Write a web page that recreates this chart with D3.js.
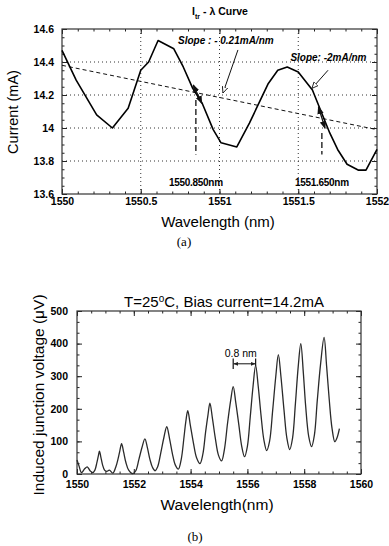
<!DOCTYPE html>
<html><head><meta charset="utf-8">
<script src="https://cdn.jsdelivr.net/npm/d3@7/dist/d3.min.js"></script>
<style>body{margin:0;background:#fff} svg{display:block}</style>
</head><body>
<script>
// ---------- Data: chart (a) ----------
const wlA  = [1550, 1550.09, 1550.22, 1550.32, 1550.42, 1550.50, 1550.55, 1550.61, 1550.71, 1550.77, 1550.83, 1550.89, 1550.96, 1551.01, 1551.11, 1551.19, 1551.31, 1551.37, 1551.43, 1551.50, 1551.59, 1551.70, 1551.75, 1551.81, 1551.88, 1551.93, 1552.00];
const curA = [14.47, 14.29, 14.08, 14.00, 14.12, 14.35, 14.40, 14.53, 14.48, 14.37, 14.24, 14.15, 13.99, 13.91, 13.885, 14.03, 14.27, 14.35, 14.37, 14.34, 14.23, 13.97, 13.87, 13.78, 13.745, 13.745, 13.87];
const trendWl = [1550, 1552];
const trendI  = [14.38, 13.99];
const markWl  = [1550.85, 1551.65];
const markLabels = ["1550.850nm", "1551.650nm"];
const xTicksA = [1550, 1550.5, 1551, 1551.5, 1552];
const yTicksA = [13.6, 13.8, 14, 14.2, 14.4, 14.6];

// ---------- Data: chart (b) ----------
const wlB = [1550.00,1550.07,1550.16,1550.27,1550.36,1550.46,
  1550.55,1550.63,1550.70,1550.75,1550.79,1550.84,1550.90,1550.97,1551.05,1551.14,
  1551.26,1551.36,1551.45,1551.51,1551.57,1551.64,1551.72,1551.82,
  1551.97,1552.07,1552.18,1552.29,1552.39,1552.48,1552.57,1552.66,
  1552.75,1552.84,1552.95,1553.06,1553.16,1553.26,1553.36,1553.46,
  1553.57,1553.67,1553.77,1553.83,1553.90,1553.99,1554.10,1554.21,
  1554.33,1554.43,1554.53,1554.61,1554.68,1554.77,1554.87,1554.98,
  1555.09,1555.19,1555.30,1555.41,1555.50,1555.59,1555.70,1555.80,
  1555.90,1556.00,1556.10,1556.20,1556.29,1556.38,1556.48,1556.58,
  1556.68,1556.78,1556.89,1557.00,1557.09,1557.18,1557.29,1557.39,
  1557.49,1557.59,1557.69,1557.79,1557.88,1557.97,1558.05,1558.16,
  1558.26,1558.36,1558.46,1558.58,1558.70,1558.79,1558.88,1558.98,
  1559.08,1559.16,1559.24];
const voltB = [43,25,4,16,22,10,
  4,12,35,55,70,52,28,12,8,12,
  3,20,48,72,93,68,36,12,
  1,10,45,82,108,80,44,20,
  10,22,65,112,145,108,62,28,
  15,45,115,160,194,150,95,50,
  32,60,130,180,217,170,110,58,
  40,75,155,225,268,220,150,85,
  53,85,175,270,333,270,180,105,
  72,100,195,300,366,300,195,110,
  75,110,215,330,400,310,210,115,
  84,120,225,340,419,330,230,140,
  99,112,139];
const xTicksB = [1550, 1552, 1554, 1556, 1558, 1560];
const yTicksB = [0, 100, 200, 300, 400, 500];

const FONT = "'Liberation Sans', Arial, Helvetica, sans-serif";
const SERIF = "'Liberation Serif', 'Times New Roman', serif";
const svg = d3.select("body").append("svg").attr("width", 389).attr("height", 546);

const defs = svg.append("defs");
defs.append("marker").attr("id","open").attr("viewBox","0 0 10 10").attr("refX",9).attr("refY",5)
  .attr("markerWidth",7).attr("markerHeight",7).attr("orient","auto").attr("markerUnits","userSpaceOnUse")
  .append("path").attr("d","M0,1 L9,5 L0,9 Z").attr("fill","#fff").attr("stroke","#111").attr("stroke-width",1.2);
defs.append("marker").attr("id","fill").attr("viewBox","0 0 10 10").attr("refX",9).attr("refY",5)
  .attr("markerWidth",8).attr("markerHeight",8).attr("orient","auto-start-reverse").attr("markerUnits","userSpaceOnUse")
  .append("path").attr("d","M0,1 L10,5 L0,9 Z").attr("fill","#111");
defs.append("marker").attr("id","small").attr("viewBox","0 0 10 10").attr("refX",9).attr("refY",5)
  .attr("markerWidth",5).attr("markerHeight",5).attr("orient","auto-start-reverse").attr("markerUnits","userSpaceOnUse")
  .append("path").attr("d","M0,1 L10,5 L0,9 Z").attr("fill","#222");

// ================= Chart (a) =================
const xA = d3.scaleLinear().domain([1550, 1552]).range([62, 377]);
const yA = d3.scaleLinear().domain([13.6, 14.6]).range([194, 29]);
const gA = svg.append("g");

// grid
gA.selectAll(".vg").data(xTicksA.slice(1, -1)).join("line")
  .attr("x1", d => xA(d)).attr("x2", d => xA(d)).attr("y1", yA(13.6)).attr("y2", yA(14.6))
  .attr("stroke", "#333").attr("stroke-width", 1).attr("stroke-dasharray", "1,3");
gA.selectAll(".hg").data(yTicksA.slice(1, -1)).join("line")
  .attr("y1", d => yA(d)).attr("y2", d => yA(d)).attr("x1", xA(1550)).attr("x2", xA(1552))
  .attr("stroke", "#333").attr("stroke-width", 1).attr("stroke-dasharray", "1,3");

function styleAxis(g, size) {
  g.select(".domain").remove();
  g.selectAll("line").attr("stroke", "#222").attr("stroke-width", 1);
  g.selectAll("text").attr("font-family", FONT).attr("font-weight", "bold").attr("font-size", size).attr("fill", "#000");
}
const minorXA = d3.range(1550, 1552.001, 0.1);
const minorYA = d3.range(13.6, 14.601, 0.05);
[[d3.axisBottom, 194], [d3.axisTop, 29]].forEach(([ax, y], i) => {
  const g = gA.append("g").attr("transform", `translate(0,${y})`)
    .call(ax(xA).tickValues(xTicksA).tickSize(-5).tickPadding(4).tickFormat(i ? "" : d3.format("")));
  styleAxis(g, 10.5);
  const m = gA.append("g").attr("transform", `translate(0,${y})`).call(ax(xA).tickValues(minorXA).tickSize(-2.5).tickFormat(""));
  styleAxis(m, 10);
});
[[d3.axisLeft, 62], [d3.axisRight, 377]].forEach(([ax, x], i) => {
  const g = gA.append("g").attr("transform", `translate(${x},0)`)
    .call(ax(yA).tickValues(yTicksA).tickSize(-5).tickPadding(8).tickFormat(i ? "" : d3.format("")));
  styleAxis(g, 10.5);
  const m = gA.append("g").attr("transform", `translate(${x},0)`).call(ax(yA).tickValues(minorYA).tickSize(-2.5).tickFormat(""));
  styleAxis(m, 10);
});
gA.append("rect").attr("x", 62).attr("y", 29).attr("width", 315).attr("height", 165)
  .attr("fill", "none").attr("stroke", "#333").attr("stroke-width", 1.2);

// trend line
gA.append("path").datum(d3.zip(trendWl, trendI))
  .attr("d", d3.line().x(d => xA(d[0])).y(d => yA(d[1])))
  .attr("fill", "none").attr("stroke", "#111").attr("stroke-width", 1).attr("stroke-dasharray", "4,3");
// curve
gA.append("path").datum(d3.zip(wlA, curA))
  .attr("d", d3.line().x(d => xA(d[0])).y(d => yA(d[1])))
  .attr("fill", "none").attr("stroke", "#000").attr("stroke-width", 1.6).attr("stroke-linejoin", "round");

// vertical dashed markers
gA.append("line").attr("x1", xA(markWl[0])).attr("x2", xA(markWl[0])).attr("y1", yA(14.17)).attr("y2", yA(13.84))
  .attr("stroke", "#111").attr("stroke-width", 1.3).attr("stroke-dasharray", "6,3");
gA.append("line").attr("x1", xA(markWl[1])).attr("x2", xA(markWl[1])).attr("y1", yA(13.97)).attr("y2", yA(13.84))
  .attr("stroke", "#111").attr("stroke-width", 1.3).attr("stroke-dasharray", "6,3");
gA.selectAll(".ml").data(markWl).join("text")
  .attr("x", d => xA(d)).attr("y", yA(13.648)).attr("text-anchor", "middle")
  .attr("font-family", FONT).attr("font-weight", "bold").attr("font-size", 10).attr("letter-spacing", -0.3)
  .text((d, i) => markLabels[i]);

// direction arrows along curve
[[1550.834, 14.261, 1550.887, 14.150], [1551.628, 14.129, 1551.670, 13.998]].forEach(a => {
  gA.append("line").attr("x1", xA(a[0])).attr("y1", yA(a[1])).attr("x2", xA(a[2])).attr("y2", yA(a[3]))
    .attr("stroke", "#111").attr("stroke-width", 1.3)
    .attr("marker-start", "url(#fill)").attr("marker-end", "url(#fill)");
});
// slope callouts
[[1551.117, 14.473, 1551.022, 14.212], [1551.689, 14.35, 1551.587, 14.24]].forEach(a => {
  gA.append("line").attr("x1", xA(a[0])).attr("y1", yA(a[1])).attr("x2", xA(a[2])).attr("y2", yA(a[3]))
    .attr("stroke", "#111").attr("stroke-width", 1).attr("marker-end", "url(#open)");
});
gA.append("text").attr("x", xA(1550.737)).attr("y", yA(14.51))
  .attr("font-family", FONT).attr("font-weight", "bold").attr("font-style", "italic").attr("font-size", 10)
  .text("Slope : - 0.21mA/nm");
gA.append("text").attr("x", xA(1551.45)).attr("y", yA(14.408))
  .attr("font-family", FONT).attr("font-weight", "bold").attr("font-style", "italic").attr("font-size", 10)
  .text("Slope: -2mA/nm");

// title, labels
const tA = gA.append("text").attr("x", 220).attr("y", 15).attr("text-anchor", "middle")
  .attr("font-family", FONT).attr("font-weight", "bold").attr("font-size", 10.5);
tA.append("tspan").text("I");
tA.append("tspan").attr("font-size", 7).attr("dy", 3.5).text("tr");
tA.append("tspan").attr("dy", -3.5).text(" - λ Curve");
gA.append("text").attr("transform", "translate(18,112) rotate(-90)").attr("text-anchor", "middle")
  .attr("font-family", FONT).attr("font-size", 14.5).text("Current (mA)");
gA.append("text").attr("x", 218).attr("y", 227).attr("text-anchor", "middle")
  .attr("font-family", FONT).attr("font-size", 15).text("Wavelength (nm)");
gA.append("text").attr("x", 184).attr("y", 246).attr("text-anchor", "middle")
  .attr("font-family", SERIF).attr("font-size", 13).text("(a)");

// ================= Chart (b) =================
const xB = d3.scaleLinear().domain([1550, 1560]).range([77, 361]);
const yB = d3.scaleLinear().domain([0, 500]).range([474, 311]);
const gB = svg.append("g");
const minorXB = d3.range(1550, 1560.001, 0.5);
const minorYB = d3.range(0, 500.01, 100 / 3);
[[d3.axisBottom, 474], [d3.axisTop, 311]].forEach(([ax, y], i) => {
  const g = gB.append("g").attr("transform", `translate(0,${y})`)
    .call(ax(xB).tickValues(xTicksB).tickSize(-5).tickPadding(7).tickFormat(i ? "" : d3.format("")));
  styleAxis(g, 10.5);
  const m = gB.append("g").attr("transform", `translate(0,${y})`).call(ax(xB).tickValues(minorXB).tickSize(-2.5).tickFormat(""));
  styleAxis(m, 10);
});
[[d3.axisLeft, 77], [d3.axisRight, 361]].forEach(([ax, x], i) => {
  const g = gB.append("g").attr("transform", `translate(${x},0)`)
    .call(ax(yB).tickValues(yTicksB).tickSize(-5).tickPadding(9).tickFormat(i ? "" : d3.format("")));
  styleAxis(g, 10.5);
  const m = gB.append("g").attr("transform", `translate(${x},0)`).call(ax(yB).tickValues(minorYB).tickSize(-2.5).tickFormat(""));
  styleAxis(m, 10);
});
gB.append("rect").attr("x", 77).attr("y", 311).attr("width", 284).attr("height", 163)
  .attr("fill", "none").attr("stroke", "#333").attr("stroke-width", 1.2);

gB.append("path").datum(d3.zip(wlB, voltB))
  .attr("d", d3.line().x(d => xB(d[0])).y(d => yB(d[1])).curve(d3.curveCatmullRom.alpha(0.5)))
  .attr("fill", "none").attr("stroke", "#2a2a2a").attr("stroke-width", 1.3).attr("stroke-linejoin", "round");

// 0.8 nm annotation
gB.append("line").attr("x1", xB(1555.5)).attr("x2", xB(1555.5)).attr("y1", yB(354)).attr("y2", yB(322))
  .attr("stroke", "#111").attr("stroke-width", 1.2);
gB.append("line").attr("x1", xB(1556.29)).attr("x2", xB(1556.29)).attr("y1", yB(354)).attr("y2", yB(332))
  .attr("stroke", "#111").attr("stroke-width", 1.2);
gB.append("line").attr("x1", xB(1555.52)).attr("x2", xB(1556.27)).attr("y1", yB(338)).attr("y2", yB(338))
  .attr("stroke", "#111").attr("stroke-width", 1)
  .attr("marker-start", "url(#small)").attr("marker-end", "url(#small)");
gB.append("text").attr("x", xB(1555.2)).attr("y", 357)
  .attr("font-family", FONT).attr("font-size", 10.5).text("0.8 nm");

gB.append("text").attr("x", 224).attr("y", 307).attr("text-anchor", "middle")
  .attr("font-family", FONT).attr("font-size", 15)
  .html('T=25<tspan font-size="10" dy="-5">o</tspan><tspan dy="5">C, Bias current=14.2mA</tspan>');
gB.append("text").attr("transform", "translate(44,395) rotate(-90)").attr("text-anchor", "middle")
  .attr("font-family", FONT).attr("font-size", 15.5).text("Induced junction voltage (μV)");
gB.append("text").attr("x", 217).attr("y", 510).attr("text-anchor", "middle")
  .attr("font-family", FONT).attr("font-size", 15.5).text("Wavelength(nm)");
gB.append("text").attr("x", 195).attr("y", 541).attr("text-anchor", "middle")
  .attr("font-family", SERIF).attr("font-size", 13).text("(b)");
</script>
</body></html>
